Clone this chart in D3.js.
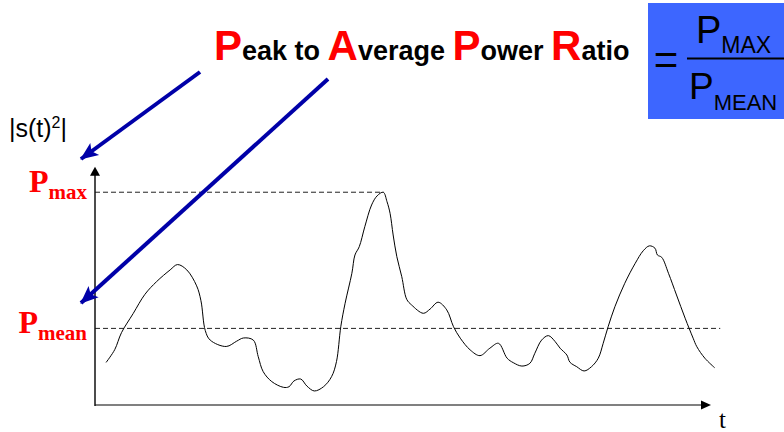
<!DOCTYPE html>
<html>
<head>
<meta charset="utf-8">
<script src="https://cdn.jsdelivr.net/npm/d3@7"></script>
<style>
  body { margin: 0; background: #fff; }
  svg { display: block; }
  text { white-space: pre; }
</style>
</head>
<body>
<div id="graph"></div>
<script>
var times = [1.8, 3.2, 4.3, 6.2, 8.1, 10.0, 12.2, 13.4, 14.9, 16.5, 17.2, 17.9, 18.7, 21.3, 23.0, 24.1,
  25.7, 26.5, 27.3, 28.7, 30.6, 31.5, 32.3, 33.4, 34.4, 35.6, 37.1, 38.4, 39.2, 39.9, 40.6, 41.7,
  42.2, 42.9, 43.8, 44.9, 45.8, 46.8, 47.4, 47.9, 48.4, 49.0, 49.8, 50.6, 51.4, 53.3, 54.4, 55.7,
  57.1, 58.2, 59.3, 60.9, 62.5, 64.1, 65.5, 66.9, 67.9, 69.3, 70.6, 71.4, 72.5, 73.6, 74.7, 75.5,
  76.6, 77.1, 78.2, 79.4, 80.6, 81.7, 82.5, 83.3, 84.4, 86.0, 87.7, 89.0, 90.0, 90.9, 91.3, 92.0,
  93.1, 94.4, 95.8, 97.1, 97.7, 99.0, 100.6]
var power = [2.0, 2.6, 3.4, 4.3, 5.2, 5.8, 6.35, 6.6, 6.35, 5.6, 4.9, 3.5, 3.05, 2.75, 3.0, 3.15,
  3.05, 2.27, 1.57, 1.10, 0.83, 0.86, 1.13, 1.22, 0.89, 0.66, 0.86, 1.33, 2.04, 3.68, 4.78, 6.19,
  7.05, 7.44, 8.38, 9.40, 9.83, 10.0, 9.56, 9.01, 7.99, 6.97, 6.03, 4.97, 4.70, 4.31, 4.51, 4.83,
  4.47, 3.68, 3.14, 2.59, 2.32, 2.67, 2.90, 2.20, 1.99, 1.83, 1.96, 2.43, 3.05, 3.26, 2.98, 2.67,
  2.35, 2.01, 1.80, 1.60, 1.80, 2.20, 2.90, 3.68, 4.62, 5.72, 6.66, 7.25, 7.48, 7.37, 7.05, 6.94,
  6.19, 5.17, 4.08, 3.14, 2.74, 2.20, 1.75]

var pMax = 10, pMaxAt = 46.8
var pMean = 3.6, pMeanEnd = 101.5
var tEnd = 100, powerTop = 11.2

var titleWords = ['P', 'eak to ', 'A', 'verage ', 'P', 'ower ', 'R', 'atio']
var fracTop = ['P', 'MAX']
var fracBottom = ['P', 'MEAN']

var data = times.map(function(t, i){ return {t: t, p: power[i]} })

var svg = d3.select('#graph').append('svg')
  .attr('width', 784)
  .attr('height', 432)

var x = d3.scaleLinear().domain([0, tEnd]).range([95, 711])
var y = d3.scaleLinear().domain([0, powerTop]).range([405, 166.7])

var defs = svg.append('defs')
defs.append('marker')
  .attr('id', 'blueHead')
  .attr('markerUnits', 'userSpaceOnUse')
  .attr('viewBox', '-18 -8 20 16')
  .attr('markerWidth', 20).attr('markerHeight', 16)
  .attr('refX', 0).attr('refY', 0)
  .attr('orient', 'auto')
  .append('path')
  .attr('d', 'M1,0 L-17,-7.5 L-13,0 L-17,7.5 Z')
  .attr('fill', '#0000a8')

// title
var title = svg.append('text')
  .attr('x', 214).attr('y', 60)
  .attr('font-family', 'Liberation Sans, Arial, sans-serif')
  .attr('font-weight', 'bold')
title.selectAll('tspan').data(titleWords).enter().append('tspan')
  .text(function(d){ return d })
  .attr('font-size', function(d, i){ return i % 2 ? 27 : 42 })
  .attr('fill', function(d, i){ return i % 2 ? '#000' : '#ff0000' })

// blue formula box
svg.append('rect')
  .attr('x', 648).attr('y', 3)
  .attr('width', 140).attr('height', 116)
  .attr('fill', '#3d66ff')

var fontSans = 'Liberation Sans, Arial, sans-serif'
svg.append('text')
  .attr('x', 666).attr('y', 74)
  .attr('text-anchor', 'middle')
  .attr('font-family', fontSans).attr('font-size', 42)
  .text('=')

svg.append('line')
  .attr('x1', 687).attr('x2', 784)
  .attr('y1', 58.5).attr('y2', 58.5)
  .attr('stroke', '#000').attr('stroke-width', 2)

var num = svg.append('text')
  .attr('x', 696).attr('y', 43)
  .attr('font-family', fontSans)
num.append('tspan').attr('font-size', 38).text(fracTop[0])
num.append('tspan').attr('font-size', 23).attr('dy', 10).text(fracTop[1])

var den = svg.append('text')
  .attr('x', 689).attr('y', 98.5)
  .attr('font-family', fontSans)
den.append('tspan').attr('font-size', 37).text(fracBottom[0])
den.append('tspan').attr('font-size', 22).attr('dy', 11.5).text(fracBottom[1])

// y label
var ylab = svg.append('text')
  .attr('x', 9).attr('y', 137)
  .attr('font-family', fontSans).attr('font-size', 25)
ylab.append('tspan').text('|s(t)')
ylab.append('tspan').attr('font-size', 16).attr('dy', -9).text('2')
ylab.append('tspan').attr('dy', 9).text('|')

// Pmax / Pmean labels
var fontSerif = 'Liberation Serif, Times New Roman, serif'
function pLabel(val, sub){
  var t = svg.append('text')
    .attr('x', 87).attr('y', y(val) + (val == pMax ? 0 : 4.5))
    .attr('text-anchor', 'end')
    .attr('font-family', fontSerif).attr('font-weight', 'bold')
    .attr('fill', '#ff0000')
  t.append('tspan').attr('font-size', 32).text('P')
  t.append('tspan').attr('font-size', 21).attr('dy', 7).text(sub)
}
pLabel(pMax, 'max')
pLabel(pMean, 'mean')

// dashed reference lines
svg.append('line')
  .attr('x1', x(0)).attr('x2', x(pMaxAt))
  .attr('y1', y(pMax)).attr('y2', y(pMax))
  .attr('stroke', '#222').attr('stroke-width', 1)
  .attr('stroke-dasharray', '5,3')

svg.append('line')
  .attr('x1', x(0)).attr('x2', x(pMeanEnd))
  .attr('y1', y(pMean)).attr('y2', y(pMean))
  .attr('stroke', '#222').attr('stroke-width', 1)
  .attr('stroke-dasharray', '5,3')

// axes
svg.append('line')
  .attr('x1', x(0)).attr('x2', x(tEnd) - 8)
  .attr('y1', y(0)).attr('y2', y(0))
  .attr('stroke', '#808080').attr('stroke-width', 2)
svg.append('path')
  .attr('d', 'M' + x(tEnd) + ',' + y(0) + 'l-10,-4.5 l0,9 Z')
  .attr('fill', '#000')

svg.append('line')
  .attr('x1', x(0)).attr('x2', x(0))
  .attr('y1', y(0) + 1).attr('y2', y(powerTop) + 8)
  .attr('stroke', '#111').attr('stroke-width', 1.5)
svg.append('path')
  .attr('d', 'M' + x(0) + ',' + y(powerTop) + 'l-5,9 l10,0 Z')
  .attr('fill', '#000')

svg.append('text')
  .attr('x', 719).attr('y', 428)
  .attr('font-family', fontSerif).attr('font-size', 25)
  .text('t')

// the signal
var line = d3.line()
  .x(function(d){ return x(d.t) })
  .y(function(d){ return y(d.p) })
  .curve(d3.curveCatmullRom)

svg.append('path')
  .attr('d', line(data))
  .attr('fill', 'none')
  .attr('stroke', '#000')
  .attr('stroke-width', 1)

// blue pointer arrows from the title to the labels
var arrows = [
  {from: [200, 72], to: [81, 159]},
  {from: [328, 79], to: [81, 303]}
]
svg.selectAll('line.pointer').data(arrows).enter().append('line')
  .attr('class', 'pointer')
  .attr('x1', function(d){ return d.from[0] })
  .attr('y1', function(d){ return d.from[1] })
  .attr('x2', function(d){ return d.to[0] })
  .attr('y2', function(d){ return d.to[1] })
  .attr('stroke', '#0000a8')
  .attr('stroke-width', 4)
  .attr('marker-end', 'url(#blueHead)')
</script>
</body>
</html>
